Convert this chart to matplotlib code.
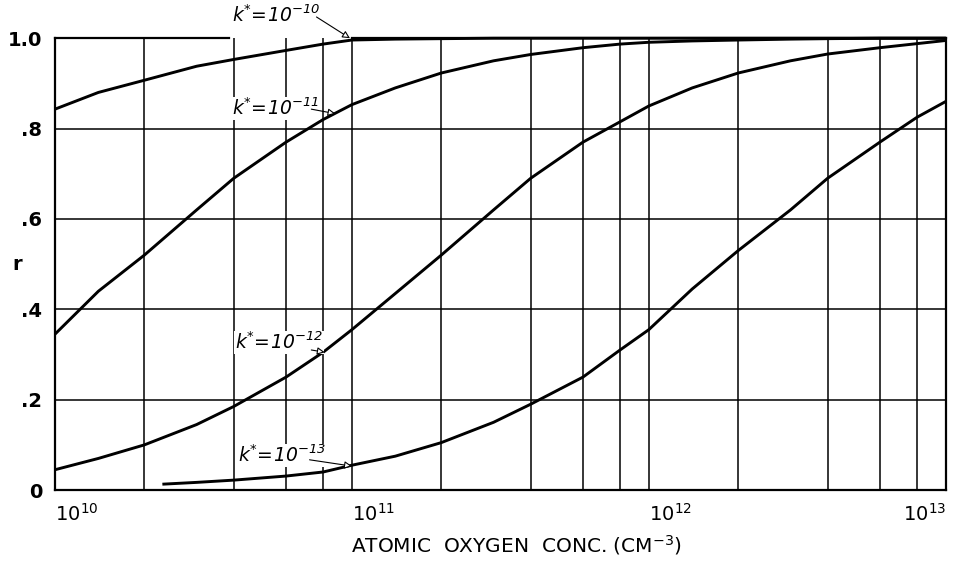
import matplotlib
matplotlib.use("Agg")
import matplotlib.pyplot as plt
import matplotlib.transforms as mtransforms

plt.rcParams["mathtext.fontset"] = "custom"
plt.rcParams["mathtext.rm"] = "DejaVu Sans"
plt.rcParams["mathtext.it"] = "DejaVu Sans:italic"
plt.rcParams["mathtext.bf"] = "DejaVu Sans:bold"
plt.rcParams["mathtext.bfit"] = "DejaVu Sans:italic"

# Atomic oxygen concentration (cm^-3) sample points
x_pts = [1e10, 1.4e10, 2e10, 3e10, 4e10, 6e10, 8e10, 1e11, 1.4e11, 2e11, 3e11, 4e11,
         6e11, 8e11, 1e12, 1.4e12, 2e12, 3e12, 4e12, 6e12, 8e12, 1e13]

r_k10 = [0.843, 0.88, 0.907, 0.938, 0.953, 0.973, 0.987, 0.996, 0.998, 0.999, 1.0, 1.0,
         1.0, 1.0, 1.0, 1.0, 1.0, 1.0, 1.0, 1.0, 1.0, 1.0]
r_k11 = [0.345, 0.44, 0.52, 0.62, 0.69, 0.77, 0.82, 0.853, 0.89, 0.923, 0.95, 0.964,
         0.979, 0.987, 0.991, 0.994, 0.996, 0.998, 0.999, 1.0, 1.0, 1.0]
r_k12 = [0.045, 0.07, 0.10, 0.145, 0.185, 0.25, 0.305, 0.355, 0.435, 0.52, 0.62, 0.69,
         0.77, 0.815, 0.85, 0.89, 0.923, 0.95, 0.965, 0.979, 0.988, 0.995]
x_k13 = [2.3e10, 3e10, 4e10, 6e10, 8e10, 1e11, 1.4e11, 2e11, 3e11, 4e11,
         6e11, 8e11, 1e12, 1.4e12, 2e12, 3e12, 4e12, 6e12, 8e12, 1e13]
r_k13 = [0.013, 0.017, 0.022, 0.031, 0.040, 0.055, 0.075, 0.105, 0.15, 0.19,
         0.25, 0.31, 0.355, 0.445, 0.53, 0.62, 0.69, 0.77, 0.825, 0.86]

labels = [r"$\mathbfit{k^{*}\!=\!10^{-10}}$", r"$\mathbfit{k^{*}\!=\!10^{-11}}$",
          r"$\mathbfit{k^{*}\!=\!10^{-12}}$", r"$\mathbfit{k^{*}\!=\!10^{-13}}$"]
label_text_xy = [(3.95e10, 1.05), (3.95e10, 0.845), (4.05e10, 0.327), (4.15e10, 0.077)]
label_arrow_start = [(7.6e10, 1.047), (7.3e10, 0.843), (7.3e10, 0.31), (7.2e10, 0.067)]
label_arrow_xy = [(9.85e10, 1.0), (8.8e10, 0.833), (8.1e10, 0.305), (1.0e11, 0.053)]

y_ticks = [0, 0.2, 0.4, 0.6, 0.8, 1.0]
y_ticklabels = ["0", ".2", ".4", ".6", ".8", "1.0"]
x_ticks = [1e10, 1e11, 1e12, 1e13]
x_ticklabels = [r"$10^{10}$", r"$10^{11}$", r"$10^{12}$", r"$10^{13}$"]
x_grid = [m * 10.0 ** e for e in (10, 11, 12) for m in (2, 4, 6, 8, 10)]

fig = plt.figure(figsize=(9.73, 5.62), dpi=100)
ax = fig.add_axes([0.0565, 0.128, 0.9155, 0.804])
ax.set_xscale("log")
ax.set_xlim(1e10, 1e13)
ax.set_ylim(0, 1.0)

for xv in x_grid[:-1]:
    ax.axvline(xv, color="black", lw=1.1, zorder=1)
for yv in y_ticks[1:-1]:
    ax.axhline(yv, color="black", lw=1.1, zorder=1)

# top border, broken under the top label as in the original
ax.spines["top"].set_visible(False)
ax.plot([1e10, 3.85e10], [1.0, 1.0], color="black", lw=1.6, zorder=2, clip_on=False)
ax.plot([1e11, 1e13], [1.0, 1.0], color="black", lw=1.6, zorder=2, clip_on=False)

for xs, ys in [(x_pts, r_k10), (x_pts, r_k11), (x_pts, r_k12), (x_k13, r_k13)]:
    ax.plot(xs, ys, color="black", lw=2.1, solid_capstyle="butt", zorder=3, clip_on=False)

for lab, txy, axy, sxy in zip(labels, label_text_xy, label_arrow_xy, label_arrow_start):
    ax.text(txy[0], txy[1], lab, fontsize=13.5, ha="left", va="center",
            zorder=5, clip_on=False,
            bbox=dict(boxstyle="square,pad=0.05", fc="white", ec="none"))
    ax.annotate("", xy=axy, xytext=sxy, zorder=6, annotation_clip=False,
                arrowprops=dict(arrowstyle="-|>", color="black", lw=0.8, fc="white",
                                mutation_scale=11, shrinkA=0, shrinkB=0))

for s in ax.spines.values():
    s.set_linewidth(1.6)
    s.set_zorder(2)

ax.set_yticks(y_ticks)
ax.set_yticklabels(y_ticklabels, fontsize=14, fontweight="bold")
ax.set_xticks(x_ticks)
ax.set_xticklabels(x_ticklabels, fontsize=14)
offset = mtransforms.ScaledTranslation(-5 / 72, 0, fig.dpi_scale_trans)
xtl = ax.get_xticklabels()
for lbl in xtl[:-1]:
    lbl.set_horizontalalignment("left")
    lbl.set_transform(lbl.get_transform() + offset)
xtl[-1].set_horizontalalignment("right")
xtl[-1].set_transform(xtl[-1].get_transform()
                      + mtransforms.ScaledTranslation(19 / 72, 0, fig.dpi_scale_trans))
ax.minorticks_off()
ax.tick_params(length=0)
ax.tick_params(axis="y", pad=9)
ax.tick_params(axis="x", pad=9)

fig.text(17 / 973, 1 - 265 / 562, "r", fontsize=14, fontweight="bold", ha="center", va="center")
fig.text(516 / 973, 1 - 545 / 562, "ATOMIC  OXYGEN  CONC. (CM$^{-3}$)", fontsize=14.5,
         ha="center", va="center")

fig.savefig("out.png", dpi=100)
